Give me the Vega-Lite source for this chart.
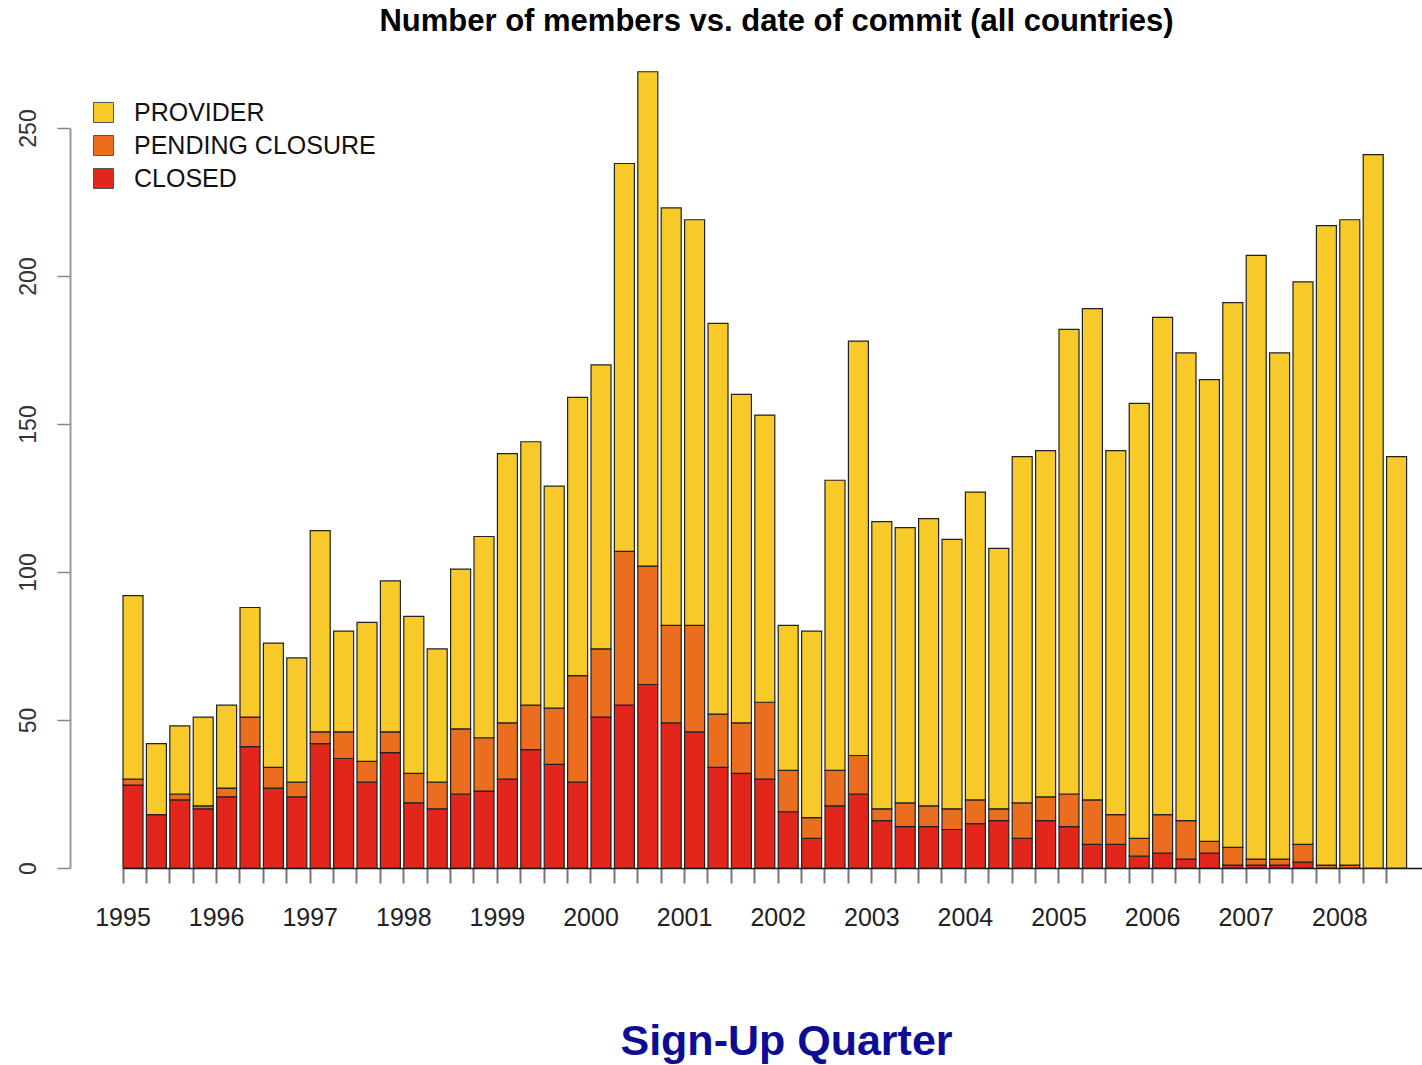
{
  "$schema": "https://vega.github.io/schema/vega-lite/v6.json",
  "autosize": {"type": "none"},
  "padding": {"left": 123, "top": 128, "right": 0, "bottom": 197},
  "width": 1299,
  "height": 740,
  "background": "white",
  "title": {
    "text": "Number of members vs. date of commit (all countries)",
    "font": "Liberation Sans",
    "fontSize": 31,
    "fontWeight": "bold",
    "color": "#000000",
    "anchor": "middle",
    "frame": "group",
    "baseline": "alphabetic",
    "offset": 9,
    "dx": 4
  },
  "data": {
    "values": [
      {"q": "1995 Q1", "s": "CLOSED", "n": 28}, {"q": "1995 Q1", "s": "PENDING CLOSURE", "n": 2}, {"q": "1995 Q1", "s": "PROVIDER", "n": 62},
      {"q": "1995 Q2", "s": "CLOSED", "n": 18}, {"q": "1995 Q2", "s": "PROVIDER", "n": 24},
      {"q": "1995 Q3", "s": "CLOSED", "n": 23}, {"q": "1995 Q3", "s": "PENDING CLOSURE", "n": 2}, {"q": "1995 Q3", "s": "PROVIDER", "n": 23},
      {"q": "1995 Q4", "s": "CLOSED", "n": 20}, {"q": "1995 Q4", "s": "PENDING CLOSURE", "n": 1}, {"q": "1995 Q4", "s": "PROVIDER", "n": 30},
      {"q": "1996 Q1", "s": "CLOSED", "n": 24}, {"q": "1996 Q1", "s": "PENDING CLOSURE", "n": 3}, {"q": "1996 Q1", "s": "PROVIDER", "n": 28},
      {"q": "1996 Q2", "s": "CLOSED", "n": 41}, {"q": "1996 Q2", "s": "PENDING CLOSURE", "n": 10}, {"q": "1996 Q2", "s": "PROVIDER", "n": 37},
      {"q": "1996 Q3", "s": "CLOSED", "n": 27}, {"q": "1996 Q3", "s": "PENDING CLOSURE", "n": 7}, {"q": "1996 Q3", "s": "PROVIDER", "n": 42},
      {"q": "1996 Q4", "s": "CLOSED", "n": 24}, {"q": "1996 Q4", "s": "PENDING CLOSURE", "n": 5}, {"q": "1996 Q4", "s": "PROVIDER", "n": 42},
      {"q": "1997 Q1", "s": "CLOSED", "n": 42}, {"q": "1997 Q1", "s": "PENDING CLOSURE", "n": 4}, {"q": "1997 Q1", "s": "PROVIDER", "n": 68},
      {"q": "1997 Q2", "s": "CLOSED", "n": 37}, {"q": "1997 Q2", "s": "PENDING CLOSURE", "n": 9}, {"q": "1997 Q2", "s": "PROVIDER", "n": 34},
      {"q": "1997 Q3", "s": "CLOSED", "n": 29}, {"q": "1997 Q3", "s": "PENDING CLOSURE", "n": 7}, {"q": "1997 Q3", "s": "PROVIDER", "n": 47},
      {"q": "1997 Q4", "s": "CLOSED", "n": 39}, {"q": "1997 Q4", "s": "PENDING CLOSURE", "n": 7}, {"q": "1997 Q4", "s": "PROVIDER", "n": 51},
      {"q": "1998 Q1", "s": "CLOSED", "n": 22}, {"q": "1998 Q1", "s": "PENDING CLOSURE", "n": 10}, {"q": "1998 Q1", "s": "PROVIDER", "n": 53},
      {"q": "1998 Q2", "s": "CLOSED", "n": 20}, {"q": "1998 Q2", "s": "PENDING CLOSURE", "n": 9}, {"q": "1998 Q2", "s": "PROVIDER", "n": 45},
      {"q": "1998 Q3", "s": "CLOSED", "n": 25}, {"q": "1998 Q3", "s": "PENDING CLOSURE", "n": 22}, {"q": "1998 Q3", "s": "PROVIDER", "n": 54},
      {"q": "1998 Q4", "s": "CLOSED", "n": 26}, {"q": "1998 Q4", "s": "PENDING CLOSURE", "n": 18}, {"q": "1998 Q4", "s": "PROVIDER", "n": 68},
      {"q": "1999 Q1", "s": "CLOSED", "n": 30}, {"q": "1999 Q1", "s": "PENDING CLOSURE", "n": 19}, {"q": "1999 Q1", "s": "PROVIDER", "n": 91},
      {"q": "1999 Q2", "s": "CLOSED", "n": 40}, {"q": "1999 Q2", "s": "PENDING CLOSURE", "n": 15}, {"q": "1999 Q2", "s": "PROVIDER", "n": 89},
      {"q": "1999 Q3", "s": "CLOSED", "n": 35}, {"q": "1999 Q3", "s": "PENDING CLOSURE", "n": 19}, {"q": "1999 Q3", "s": "PROVIDER", "n": 75},
      {"q": "1999 Q4", "s": "CLOSED", "n": 29}, {"q": "1999 Q4", "s": "PENDING CLOSURE", "n": 36}, {"q": "1999 Q4", "s": "PROVIDER", "n": 94},
      {"q": "2000 Q1", "s": "CLOSED", "n": 51}, {"q": "2000 Q1", "s": "PENDING CLOSURE", "n": 23}, {"q": "2000 Q1", "s": "PROVIDER", "n": 96},
      {"q": "2000 Q2", "s": "CLOSED", "n": 55}, {"q": "2000 Q2", "s": "PENDING CLOSURE", "n": 52}, {"q": "2000 Q2", "s": "PROVIDER", "n": 131},
      {"q": "2000 Q3", "s": "CLOSED", "n": 62}, {"q": "2000 Q3", "s": "PENDING CLOSURE", "n": 40}, {"q": "2000 Q3", "s": "PROVIDER", "n": 167},
      {"q": "2000 Q4", "s": "CLOSED", "n": 49}, {"q": "2000 Q4", "s": "PENDING CLOSURE", "n": 33}, {"q": "2000 Q4", "s": "PROVIDER", "n": 141},
      {"q": "2001 Q1", "s": "CLOSED", "n": 46}, {"q": "2001 Q1", "s": "PENDING CLOSURE", "n": 36}, {"q": "2001 Q1", "s": "PROVIDER", "n": 137},
      {"q": "2001 Q2", "s": "CLOSED", "n": 34}, {"q": "2001 Q2", "s": "PENDING CLOSURE", "n": 18}, {"q": "2001 Q2", "s": "PROVIDER", "n": 132},
      {"q": "2001 Q3", "s": "CLOSED", "n": 32}, {"q": "2001 Q3", "s": "PENDING CLOSURE", "n": 17}, {"q": "2001 Q3", "s": "PROVIDER", "n": 111},
      {"q": "2001 Q4", "s": "CLOSED", "n": 30}, {"q": "2001 Q4", "s": "PENDING CLOSURE", "n": 26}, {"q": "2001 Q4", "s": "PROVIDER", "n": 97},
      {"q": "2002 Q1", "s": "CLOSED", "n": 19}, {"q": "2002 Q1", "s": "PENDING CLOSURE", "n": 14}, {"q": "2002 Q1", "s": "PROVIDER", "n": 49},
      {"q": "2002 Q2", "s": "CLOSED", "n": 10}, {"q": "2002 Q2", "s": "PENDING CLOSURE", "n": 7}, {"q": "2002 Q2", "s": "PROVIDER", "n": 63},
      {"q": "2002 Q3", "s": "CLOSED", "n": 21}, {"q": "2002 Q3", "s": "PENDING CLOSURE", "n": 12}, {"q": "2002 Q3", "s": "PROVIDER", "n": 98},
      {"q": "2002 Q4", "s": "CLOSED", "n": 25}, {"q": "2002 Q4", "s": "PENDING CLOSURE", "n": 13}, {"q": "2002 Q4", "s": "PROVIDER", "n": 140},
      {"q": "2003 Q1", "s": "CLOSED", "n": 16}, {"q": "2003 Q1", "s": "PENDING CLOSURE", "n": 4}, {"q": "2003 Q1", "s": "PROVIDER", "n": 97},
      {"q": "2003 Q2", "s": "CLOSED", "n": 14}, {"q": "2003 Q2", "s": "PENDING CLOSURE", "n": 8}, {"q": "2003 Q2", "s": "PROVIDER", "n": 93},
      {"q": "2003 Q3", "s": "CLOSED", "n": 14}, {"q": "2003 Q3", "s": "PENDING CLOSURE", "n": 7}, {"q": "2003 Q3", "s": "PROVIDER", "n": 97},
      {"q": "2003 Q4", "s": "CLOSED", "n": 13}, {"q": "2003 Q4", "s": "PENDING CLOSURE", "n": 7}, {"q": "2003 Q4", "s": "PROVIDER", "n": 91},
      {"q": "2004 Q1", "s": "CLOSED", "n": 15}, {"q": "2004 Q1", "s": "PENDING CLOSURE", "n": 8}, {"q": "2004 Q1", "s": "PROVIDER", "n": 104},
      {"q": "2004 Q2", "s": "CLOSED", "n": 16}, {"q": "2004 Q2", "s": "PENDING CLOSURE", "n": 4}, {"q": "2004 Q2", "s": "PROVIDER", "n": 88},
      {"q": "2004 Q3", "s": "CLOSED", "n": 10}, {"q": "2004 Q3", "s": "PENDING CLOSURE", "n": 12}, {"q": "2004 Q3", "s": "PROVIDER", "n": 117},
      {"q": "2004 Q4", "s": "CLOSED", "n": 16}, {"q": "2004 Q4", "s": "PENDING CLOSURE", "n": 8}, {"q": "2004 Q4", "s": "PROVIDER", "n": 117},
      {"q": "2005 Q1", "s": "CLOSED", "n": 14}, {"q": "2005 Q1", "s": "PENDING CLOSURE", "n": 11}, {"q": "2005 Q1", "s": "PROVIDER", "n": 157},
      {"q": "2005 Q2", "s": "CLOSED", "n": 8}, {"q": "2005 Q2", "s": "PENDING CLOSURE", "n": 15}, {"q": "2005 Q2", "s": "PROVIDER", "n": 166},
      {"q": "2005 Q3", "s": "CLOSED", "n": 8}, {"q": "2005 Q3", "s": "PENDING CLOSURE", "n": 10}, {"q": "2005 Q3", "s": "PROVIDER", "n": 123},
      {"q": "2005 Q4", "s": "CLOSED", "n": 4}, {"q": "2005 Q4", "s": "PENDING CLOSURE", "n": 6}, {"q": "2005 Q4", "s": "PROVIDER", "n": 147},
      {"q": "2006 Q1", "s": "CLOSED", "n": 5}, {"q": "2006 Q1", "s": "PENDING CLOSURE", "n": 13}, {"q": "2006 Q1", "s": "PROVIDER", "n": 168},
      {"q": "2006 Q2", "s": "CLOSED", "n": 3}, {"q": "2006 Q2", "s": "PENDING CLOSURE", "n": 13}, {"q": "2006 Q2", "s": "PROVIDER", "n": 158},
      {"q": "2006 Q3", "s": "CLOSED", "n": 5}, {"q": "2006 Q3", "s": "PENDING CLOSURE", "n": 4}, {"q": "2006 Q3", "s": "PROVIDER", "n": 156},
      {"q": "2006 Q4", "s": "CLOSED", "n": 1}, {"q": "2006 Q4", "s": "PENDING CLOSURE", "n": 6}, {"q": "2006 Q4", "s": "PROVIDER", "n": 184},
      {"q": "2007 Q1", "s": "CLOSED", "n": 1}, {"q": "2007 Q1", "s": "PENDING CLOSURE", "n": 2}, {"q": "2007 Q1", "s": "PROVIDER", "n": 204},
      {"q": "2007 Q2", "s": "CLOSED", "n": 1}, {"q": "2007 Q2", "s": "PENDING CLOSURE", "n": 2}, {"q": "2007 Q2", "s": "PROVIDER", "n": 171},
      {"q": "2007 Q3", "s": "CLOSED", "n": 2}, {"q": "2007 Q3", "s": "PENDING CLOSURE", "n": 6}, {"q": "2007 Q3", "s": "PROVIDER", "n": 190},
      {"q": "2007 Q4", "s": "PENDING CLOSURE", "n": 1}, {"q": "2007 Q4", "s": "PROVIDER", "n": 216},
      {"q": "2008 Q1", "s": "PENDING CLOSURE", "n": 1}, {"q": "2008 Q1", "s": "PROVIDER", "n": 218},
      {"q": "2008 Q2", "s": "PROVIDER", "n": 241},
      {"q": "2008 Q3", "s": "PROVIDER", "n": 139}
    ]
  },
  "mark": {"type": "bar", "stroke": "#222222", "strokeWidth": 1.2},
  "encoding": {
    "x": {
      "field": "q",
      "type": "nominal",
      "sort": "ascending",
      "scale": {"paddingInner": 0.145, "paddingOuter": 0.329, "align": 0},
      "axis": {
        "bandPosition": 0,
        "labelExpr": "substring(datum.value, 5, 7) == 'Q1' ? substring(datum.value, 0, 4) : ''",
        "labelAngle": 0,
        "labelAlign": "center",
        "labelBaseline": "alphabetic",
        "labelOffset": -10,
        "labelFont": "Liberation Sans",
        "labelFontSize": 25,
        "labelColor": "#222222",
        "labelPadding": 42,
        "labelOverlap": false,
        "tickSize": 15,
        "tickColor": "#777777",
        "tickWidth": 2,
        "domainColor": "#111111",
        "domainWidth": 1.5,
        "title": "Sign-Up Quarter",
        "titleFont": "Liberation Sans",
        "titleFontSize": 43,
        "titleFontWeight": "bold",
        "titleColor": "#0C0C96",
        "titleAlign": "center",
        "titleBaseline": "alphabetic",
        "titleX": 663,
        "titleY": 186
      }
    },
    "y": {
      "field": "n",
      "type": "quantitative",
      "aggregate": "sum",
      "stack": "zero",
      "scale": {"domain": [0, 250], "nice": false},
      "axis": {
        "offset": 53,
        "values": [0, 50, 100, 150, 200, 250],
        "grid": false,
        "title": null,
        "labelAngle": -90,
        "labelAlign": "center",
        "labelBaseline": "alphabetic",
        "labelFont": "Liberation Sans",
        "labelFontSize": 23,
        "labelColor": "#333333",
        "labelPadding": 22,
        "tickSize": 13,
        "tickColor": "#888888",
        "tickWidth": 1.5,
        "domainColor": "#999999",
        "domainWidth": 2
      }
    },
    "color": {
      "field": "s",
      "type": "nominal",
      "scale": {
        "domain": ["PROVIDER", "PENDING CLOSURE", "CLOSED"],
        "range": ["#F7C929", "#EB6D1E", "#E3261B"]
      },
      "legend": {
        "orient": "none",
        "legendX": -32,
        "legendY": -28,
        "title": null,
        "symbolType": "square",
        "symbolSize": 400,
        "symbolStrokeColor": "#555555",
        "symbolStrokeWidth": 1,
        "symbolOpacity": 1,
        "labelFont": "Liberation Sans",
        "labelFontSize": 25,
        "labelColor": "#111111",
        "labelOffset": 18,
        "labelLimit": 500,
        "rowPadding": 7
      }
    },
    "order": {"field": "s", "sort": "ascending"}
  },
  "config": {
    "view": {"stroke": null}
  }
}
